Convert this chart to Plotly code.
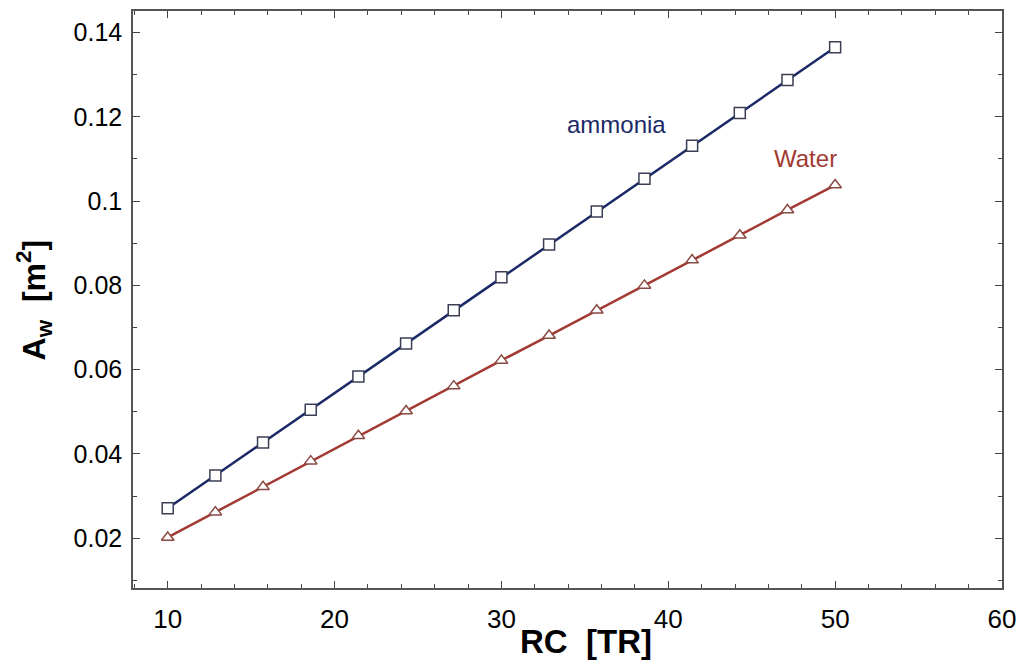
import plotly.graph_objects as go

rc = [10 + i * 40 / 14 for i in range(15)]
ammonia = [0.0271, 0.0349, 0.0427, 0.0505, 0.0584, 0.0662, 0.0741, 0.0819,
           0.0897, 0.0975, 0.1053, 0.1131, 0.1209, 0.1287, 0.1365]
water = [0.0202, 0.0262, 0.0322, 0.0383, 0.0443, 0.0502, 0.0561, 0.0622,
         0.0681, 0.0741, 0.0800, 0.0860, 0.0919, 0.0979, 0.1038]

NAVY = "#1b2a66"
RED = "#a23a33"
FONT = "Liberation Sans, Arial, sans-serif"

fig = go.Figure()
fig.add_trace(go.Scatter(
    x=rc, y=ammonia, mode="lines+markers", name="ammonia",
    line=dict(color=NAVY, width=2.5),
    marker=dict(symbol="square", size=11, color="white",
                line=dict(color="#3a3f55", width=1.5)),
))
fig.add_trace(go.Scatter(
    x=rc, y=water, mode="lines+markers", name="Water",
    line=dict(color=RED, width=2.5),
    marker=dict(symbol="triangle-up", size=11, color="white",
                line=dict(color="#8a4a44", width=1.5)),
))

fig.add_annotation(x=36.9, y=0.1181, text="ammonia", showarrow=False,
                   font=dict(family=FONT, size=24, color=NAVY))
fig.add_annotation(x=48.2, y=0.1102, text="Water", showarrow=False,
                   font=dict(family=FONT, size=24, color=RED))

# axis titles as paper annotations
fig.add_annotation(xref="paper", yref="paper", x=0.521, y=-0.093,
                   xanchor="center", yanchor="middle",
                   text="<b>RC  [TR]</b>", showarrow=False,
                   font=dict(family=FONT, size=33, color="black"))
fig.add_annotation(xref="paper", yref="paper", x=-0.114, y=0.50,
                   xanchor="center", yanchor="middle",
                   text="<b>A<sub>w</sub>  [m<sup>2</sup>]</b>", showarrow=False,
                   textangle=-90, font=dict(family=FONT, size=32, color="black"))

fig.update_layout(
    width=1025, height=667,
    margin=dict(l=133, r=21, t=9, b=79),
    paper_bgcolor="white", plot_bgcolor="white",
    showlegend=False,
    font=dict(family=FONT, color="black"),
)
fig.update_xaxes(
    range=[7.92, 60], tickvals=[10, 20, 30, 40, 50, 60],
    ticks="inside", ticklen=7, tickwidth=1.2, tickcolor="#444",
    minor=dict(dtick=2, ticks="inside", ticklen=4, tickcolor="#444", showgrid=False),
    showline=True, linecolor="#555", linewidth=1.5, mirror="ticks",
    showgrid=False, zeroline=False,
    tickfont=dict(size=26, family=FONT), ticklabelstandoff=7,
)
fig.update_yaxes(
    range=[0.0082, 0.1451], tickvals=[0.02, 0.04, 0.06, 0.08, 0.1, 0.12, 0.14],
    ticktext=["0.02", "0.04", "0.06", "0.08", "0.1", "0.12", "0.14"],
    ticks="inside", ticklen=7, tickwidth=1.2, tickcolor="#444",
    minor=dict(dtick=0.01, tick0=0, ticks="inside", ticklen=4, tickcolor="#444", showgrid=False),
    showline=True, linecolor="#555", linewidth=1.5, mirror="ticks",
    showgrid=False, zeroline=False,
    tickfont=dict(size=25, family=FONT), ticklabelstandoff=4,
)

fig.write_html("out.html")
